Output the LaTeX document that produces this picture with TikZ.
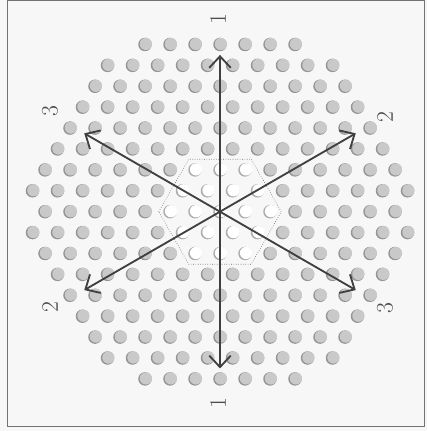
\documentclass[tikz,border=0pt]{standalone}
\usepackage{tikz}
\usetikzlibrary{arrows.meta}

\tikzset{
  axisarrow/.style={draw=black!75,line width=2.1pt,{Straight Barb[length=4.6mm,width=8.6mm]}-{Straight Barb[length=4.6mm,width=8.6mm]}},
  axislabel/.style={font=\fontsize{27}{27}\selectfont,text=black!70,rotate=90,inner sep=0pt},
  dotrim/.style={fill=black!42},
  dotface/.style={fill=black!21},
  holerim/.style={fill=black!32},
  holeface/.style={fill=white},
}

\begin{document}
\begin{tikzpicture}
\useasboundingbox[fill=black!3] (-8.8,-8.772) rectangle (8.28,8.468);
\draw[black!55,line width=1.1pt] (-8.52,-8.61) rectangle (8.18,8.43);
% lattice of holes
\foreach \j in {-8,...,8}{
  \foreach \i in {-12,...,12}{
    \pgfmathsetmacro\px{\i+0.5*\j}
    \pgfmathsetmacro\py{-0.836*\j}
    \pgfmathtruncatemacro\keepdot{((\px)*(\px)+0.75*(\j)*(\j))<58}
    \pgfmathtruncatemacro\inhex{and(abs(\j)<=2,abs(\px)+0.5*abs(\j)<=2.55)}
    \ifnum\keepdot=1
      \ifnum\inhex=1
        \fill[holerim] (\px,\py) circle (0.27);
        \fill[holeface] (\px+0.04,\py+0.02) circle (0.245);
      \else
        \fill[dotrim] (\px,\py) circle (0.27);
        \fill[dotface] (\px+0.035,\py+0.02) circle (0.245);
      \fi
    \fi
  }
}
\draw[black!60,dotted,line width=0.7pt] (-2.45,0) -- (-1.25,2.1) -- (1.25,2.1) -- (2.45,0) -- (1.25,-2.1) -- (-1.25,-2.1) -- cycle;
% axes
\coordinate (c) at (0,0);
\coordinate (a1p) at (90:6.27);
\coordinate (a1m) at (270:6.27);
\coordinate (a2p) at (30:6.27);
\coordinate (a2m) at (210:6.27);
\coordinate (a3p) at (150:6.27);
\coordinate (a3m) at (330:6.27);
\draw[axisarrow] (a1m) -- (a1p);
\draw[axisarrow] (a2m) -- (a2p);
\draw[axisarrow] (a3m) -- (a3p);
\node[axislabel] (l1p) at (-0.08,7.71) {1};
\node[axislabel] (l1m) at (-0.08,-7.67) {1};
\node[axislabel] (l2p) at (6.6,3.79) {2};
\node[axislabel] (l2m) at (-6.8,-3.81) {2};
\node[axislabel] (l3p) at (-6.8,4.03) {3};
\node[axislabel] (l3m) at (6.6,-3.85) {3};
\end{tikzpicture}
\end{document}
